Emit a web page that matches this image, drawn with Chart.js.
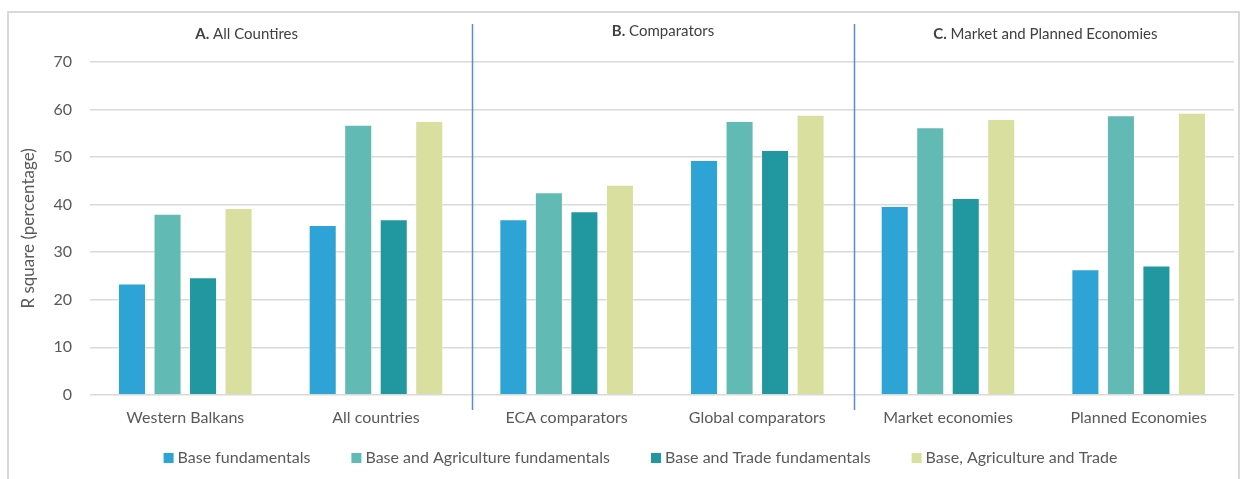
<!DOCTYPE html>
<html>
<head>
<meta charset="utf-8">
<script src="https://cdn.jsdelivr.net/npm/chart.js@4.4.1/dist/chart.umd.min.js"></script>
<style>
  body { margin: 0; background: #fff; }
  #frame {
    position: absolute; left: 7px; top: 11px;
    width: 1229px; height: 470px;
    border: 2px solid #d9d9d9; border-bottom: none;
  }
</style>
</head>
<body>
<div id="frame"><canvas id="chart" width="1229" height="470"></canvas></div>
<script>
// categories and section headers
const categories = ['Western Balkans', 'All countries', 'ECA comparators', 'Global comparators', 'Market economies', 'Planned Economies'];
const sections = [['A.', ' All Countires'], ['B.', ' Comparators'], ['C.', ' Market and Planned Economies']];

// R square values (percentage)
const baseFund = [23.4, 35.7, 36.9, 49.4, 39.7, 26.4];
const baseAgri = [38.1, 56.8, 42.6, 57.6, 56.3, 58.8];
const baseTrade = [24.7, 36.9, 38.6, 51.5, 41.4, 27.2];
const baseAgriTrade = [39.3, 57.6, 44.2, 58.9, 58.0, 59.3];

const yTicks = [0, 10, 20, 30, 40, 50, 60, 70];

const FONT = 'Lato, "Open Sans", sans-serif';

// vertical dividers, section headers and the legend row
const panels = {
  id: 'panels',
  afterDraw(chart) {
    const ctx = chart.ctx;
    const x = chart.scales.x;
    ctx.save();
    ctx.strokeStyle = '#5b8ccf';
    ctx.lineWidth = 1.5;
    [1.5, 3.5].forEach(v => {
      const px = Math.round(x.getPixelForValue(v)) + 1.5;
      ctx.beginPath();
      ctx.moveTo(px, 11);
      ctx.lineTo(px, 397);
      ctx.stroke();
    });

    const centers = [x.getPixelForValue(0.5) - 34, x.getPixelForValue(2.5) + 1, x.getPixelForValue(4.5) + 2];
    const tops = [21, 18, 21];
    ctx.fillStyle = '#404040';
    ctx.textBaseline = 'middle';
    sections.forEach((s, i) => {
      ctx.font = 'bold 15px ' + FONT;
      const w1 = ctx.measureText(s[0]).width;
      ctx.font = '15px ' + FONT;
      const w2 = ctx.measureText(s[1]).width;
      const sx = centers[i] - (w1 + w2) / 2;
      ctx.font = 'bold 15px ' + FONT;
      ctx.fillText(s[0], sx, tops[i]);
      ctx.font = '15px ' + FONT;
      ctx.fillText(s[1], sx + w1, tops[i]);
    });

    // legend
    ctx.font = '16px ' + FONT;
    const items = chart.data.datasets;
    const widths = items.map(d => 14 + ctx.measureText(d.label).width);
    const total = widths.reduce((a, b) => a + b, 0) + 41 * (items.length - 1);
    let lx = chart.width / 2 + 17 - total / 2;
    const ly = 445;
    items.forEach((d, i) => {
      ctx.fillStyle = d.backgroundColor;
      ctx.fillRect(lx, ly - 5, 10, 10);
      ctx.fillStyle = '#595959';
      ctx.fillText(d.label, lx + 14, ly);
      lx += widths[i] + 41;
    });
    ctx.restore();
  }
};

const mk = (label, data, color) => ({
  label, data,
  backgroundColor: color,
  borderColor: 'rgba(255,255,255,0.45)',
  borderWidth: 1,
  categoryPercentage: 0.745,
  barPercentage: 0.79
});

new Chart(document.getElementById('chart'), {
  type: 'bar',
  data: {
    labels: categories,
    datasets: [
      mk('Base fundamentals', baseFund, '#2ea3d5'),
      mk('Base and Agriculture fundamentals', baseAgri, '#62bab4'),
      mk('Base and Trade fundamentals', baseTrade, '#2197a0'),
      mk('Base, Agriculture and Trade', baseAgriTrade, '#d9df9e')
    ]
  },
  options: {
    responsive: false,
    animation: false,
    layout: { padding: { top: 49, right: 4, left: 5, bottom: 51 } },
    scales: {
      x: {
        grid: { display: false },
        border: { display: false },
        ticks: { color: '#595959', font: { family: FONT, size: 16 }, padding: 5 }
      },
      y: {
        min: 0, max: 70,
        afterBuildTicks: axis => { axis.ticks = yTicks.map(v => ({ value: v })); },
        grid: { color: '#d9d9d9', lineWidth: 1.5, drawTicks: false },
        border: { display: false },
        ticks: { color: '#595959', font: { family: FONT, size: 16 }, padding: 18 },
        title: { display: true, text: 'R square (percentage)', color: '#595959', font: { family: FONT, size: 17 }, padding: { top: 4, bottom: -3 } }
      }
    },
    plugins: {
      legend: { display: false },
      tooltip: { enabled: false }
    }
  },
  plugins: [panels]
});
</script>
</body>
</html>
